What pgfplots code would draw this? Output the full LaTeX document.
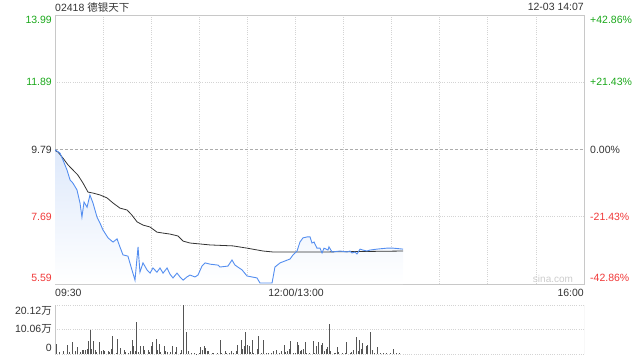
\documentclass[border=0pt]{standalone}
\usepackage{pgfplots}
\pgfplotsset{compat=1.18}
\usepackage{fontspec}
\setmainfont{Liberation Sans}
\newfontfamily\cjk{Noto Sans CJK SC}
\definecolor{cgreen}{RGB}{26,168,26}
\definecolor{cred}{RGB}{240,56,56}
\definecolor{cblue}{RGB}{84,142,240}
\definecolor{cdark}{RGB}{51,51,51}
\definecolor{cframe}{RGB}{200,200,200}
\definecolor{cgrid}{RGB}{212,212,212}
\definecolor{cfill}{RGB}{222,233,251}
\definecolor{cbar}{RGB}{85,85,85}
\begin{document}
\begin{tikzpicture}[every node/.style={inner sep=0pt, font=\fontsize{10.5}{12}\selectfont}]
\path[use as bounding box] (0,0) rectangle (640pt,-360pt);
\begin{axis}[
  at={(55pt,-15pt)}, anchor=north west, width=529pt, height=269pt, scale only axis,
  xmin=0, xmax=330, ymin=5.59, ymax=13.99,
  xtick={30,60,...,300}, ytick={7.69,11.89},
  xticklabels={}, yticklabels={},
  major tick length=0pt,
  grid=major, grid style={dash pattern=on 1pt off 1.2pt, cgrid, line width=0.8pt},
  extra y ticks={9.79}, extra y tick labels={},
  extra y tick style={grid style={dash pattern=on 3pt off 2pt, gray!65, line width=0.8pt}},
  axis line style={cframe, line width=0.8pt},
]
\addplot[draw=none, top color=cfill, bottom color=white] coordinates {
(0,9.78) (3.1,9.68) (5.0,9.46) (7.5,9.15) (9.4,8.84) (11.2,8.74) (13.7,8.53) (15.6,8.12)
(16.8,7.68) (18.1,8.15) (20.0,7.99) (21.8,8.37) (23.7,8.12) (26.2,7.68) (28.1,7.49)
(29.9,7.28) (33.1,7.03) (36.2,6.90) (38.7,7.00) (40.5,6.75) (42.4,6.50) (45.5,6.46)
(48.0,6.03) (49.9,5.71) (51.8,6.75) (53.0,5.96) (54.9,6.25) (57.4,6.03) (59.3,5.93)
(61.1,6.09) (63.6,5.96) (65.5,6.09) (67.4,5.93) (69.9,6.09) (71.7,5.90) (73.6,5.78)
(76.1,5.93) (78.0,5.81) (79.9,5.71) (82.3,5.81) (84.2,5.87) (87.3,5.81) (89.2,5.87)
(91.7,6.15) (93.6,6.25) (96.7,6.21) (101.7,6.18) (102.9,6.12) (107.9,6.15) (110.4,6.34)
(112.3,6.18) (116.7,6.03) (119.8,5.84) (126.0,5.78) (127.9,5.62) (135.4,5.62) (137.2,6.12)
(140.4,6.25) (146.6,6.37) (148.5,6.50) (151.0,6.62) (152.8,6.90) (154.7,7.03) (157.2,7.06)
(159.1,7.06) (160.3,6.87) (161.6,6.90) (163.4,6.71) (165.3,6.71) (166.6,6.56) (167.8,6.71)
(170.3,6.65) (170.9,6.75) (172.8,6.59) (177.8,6.62) (182.2,6.59) (184.0,6.62) (185.3,6.56)
(187.1,6.59) (188.4,6.53) (190.3,6.68) (192.1,6.65) (194.6,6.62) (196.5,6.65) (200.9,6.68)
(207.1,6.71) (210.9,6.71) (217.1,6.68) (217.1,5.59) (0,5.59)
} -- cycle;
\addplot[cdark, line width=0.8pt] coordinates {
(0,9.76) (1.9,9.71) (5.0,9.52) (8.1,9.31) (11.2,9.15) (14.3,8.99) (17.5,8.74) (20.6,8.46)
(23.7,8.43) (28.1,8.37) (32.4,8.28) (36.2,8.12) (40.5,7.96) (45.0,7.90) (48.0,7.74)
(51.2,7.53) (54.9,7.43) (59.3,7.37) (63.6,7.21) (67.4,7.18) (71.7,7.15) (76.7,7.09)
(79.9,6.93) (84.2,6.87) (90.5,6.84) (96.7,6.81) (111.0,6.78) (119.8,6.71) (129.8,6.62)
(136.0,6.59) (151.0,6.59) (167.2,6.59) (217.1,6.62)
};
\addplot[cblue, line width=0.9pt] coordinates {
(0,9.78) (3.1,9.68) (5.0,9.46) (7.5,9.15) (9.4,8.84) (11.2,8.74) (13.7,8.53) (15.6,8.12)
(16.8,7.68) (18.1,8.15) (20.0,7.99) (21.8,8.37) (23.7,8.12) (26.2,7.68) (28.1,7.49)
(29.9,7.28) (33.1,7.03) (36.2,6.90) (38.7,7.00) (40.5,6.75) (42.4,6.50) (45.5,6.46)
(48.0,6.03) (49.9,5.71) (51.8,6.75) (53.0,5.96) (54.9,6.25) (57.4,6.03) (59.3,5.93)
(61.1,6.09) (63.6,5.96) (65.5,6.09) (67.4,5.93) (69.9,6.09) (71.7,5.90) (73.6,5.78)
(76.1,5.93) (78.0,5.81) (79.9,5.71) (82.3,5.81) (84.2,5.87) (87.3,5.81) (89.2,5.87)
(91.7,6.15) (93.6,6.25) (96.7,6.21) (101.7,6.18) (102.9,6.12) (107.9,6.15) (110.4,6.34)
(112.3,6.18) (116.7,6.03) (119.8,5.84) (126.0,5.78) (127.9,5.62) (135.4,5.62) (137.2,6.12)
(140.4,6.25) (146.6,6.37) (148.5,6.50) (151.0,6.62) (152.8,6.90) (154.7,7.03) (157.2,7.06)
(159.1,7.06) (160.3,6.87) (161.6,6.90) (163.4,6.71) (165.3,6.71) (166.6,6.56) (167.8,6.71)
(170.3,6.65) (170.9,6.75) (172.8,6.59) (177.8,6.62) (182.2,6.59) (184.0,6.62) (185.3,6.56)
(187.1,6.59) (188.4,6.53) (190.3,6.68) (192.1,6.65) (194.6,6.62) (196.5,6.65) (200.9,6.68)
(207.1,6.71) (210.9,6.71) (217.1,6.68)
};
\end{axis}
\begin{axis}[
  at={(55pt,-305pt)}, anchor=north west, width=529pt, height=49pt, scale only axis,
  xmin=0, xmax=330, ymin=0, ymax=20.12,
  xtick=\empty, ytick={0,10.06,20.12}, yticklabels={},
  major tick length=0pt,
  ymajorgrids, grid style={dash pattern=on 1pt off 1.2pt, cgrid, line width=0.8pt},
  axis line style={draw=none},
]
\draw[cframe, line width=0.8pt] (rel axis cs:0,0) -- (rel axis cs:0,1);
\draw[cframe, line width=0.8pt] (rel axis cs:1,0) -- (rel axis cs:1,1);
\addplot[ycomb, cbar, line width=0.8pt] coordinates {
(1,4.2) (3,1.0) (5,1.4) (8,3.8) (9,0.8) (11,4.8) (13,1.1) (14,3.0) (16,0.8) (17,1.8)
(18,1.5) (19,1.8) (20,2.2) (21,5.5) (22,10.0) (23,2.0) (24,5.5) (25,1.8) (26,0.7) (28,5.1)
(29,1.1) (30,1.8) (31,1.4) (33,1.4) (34,0.7) (35,2.0) (36,7.5) (38,0.4) (39,6.3) (41,2.5)
(43,1.5) (44,0.7) (46,0.4) (47,1.1) (48,5.9) (49,3.1) (50,1.4) (51,13.3) (52,0.7) (53,3.4)
(55,3.4) (56,1.8) (58,1.5) (59,0.7) (60,3.1) (61,5.1) (63,6.2) (64,1.8) (65,4.2) (66,0.7)
(68,3.4) (69,1.1) (70,0.8) (72,0.8) (73,3.1) (75,1.0) (76,2.7) (78,0.4) (79,1.8) (80,20.12)
(82,8.9) (83,1.1) (85,0.4) (87,0.4) (88,0.2) (90,0.4) (91,2.7) (92,1.5) (93,3.4) (94,2.5)
(95,1.4) (96,1.1) (98,0.4) (99,0.3) (101,0.3) (103,5.6) (104,0.4) (106,1.1) (107,0.4) (109,0.4)
(110,1.1) (111,0.4) (113,1.1) (114,3.8) (116,5.9) (117,2.2) (118,3.4) (119,8.9) (120,3.8) (121,3.4)
(122,0.7) (123,5.9) (124,0.4) (126,2.2) (127,7.2) (129,0.4) (130,5.9) (132,0.3) (133,0.3) (135,0.4)
(136,1.1) (138,1.5) (140,0.4) (141,1.4) (143,3.8) (144,0.7) (145,1.1) (146,2.2) (147,5.5) (149,0.4)
(150,0.4) (151,4.8) (152,3.8) (153,1.1) (154,1.5) (155,2.2) (156,4.8) (157,0.4) (159,0.3) (161,5.2)
(162,0.4) (163,3.1) (164,5.1) (166,3.8) (167,4.5) (168,1.1) (169,2.2) (170,2.7) (171,12.4) (172,1.1)
(174,0.4) (175,0.4) (176,2.7) (177,0.7) (179,0.4) (181,0.4) (182,4.8) (184,0.4) (185,0.7) (186,1.5)
(188,6.8) (189,1.1) (190,5.9) (191,2.0) (192,4.5) (194,3.4) (195,3.8) (197,8.9) (198,1.5) (199,0.4)
(201,2.7) (203,0.3) (205,0.3) (207,0.4) (209,0.4) (211,2.2) (213,0.4) (215,0.4)
};
\end{axis}
% texts
\node[anchor=west, text=cdark] at (55pt,-7pt) {02418 {\cjk 德银天下}};
\node[anchor=east, text=cdark] at (584pt,-7pt) {12-03 14:07};
\node[anchor=east, text=cgreen] at (52pt,-20pt) {13.99};
\node[anchor=east, text=cgreen] at (52pt,-82pt) {11.89};
\node[anchor=east, text=cdark] at (52pt,-150pt) {9.79};
\node[anchor=east, text=cred] at (52pt,-217pt) {7.69};
\node[anchor=east, text=cred] at (52pt,-278pt) {5.59};
\node[anchor=west, text=cgreen] at (590pt,-20pt) {+42.86\%};
\node[anchor=west, text=cgreen] at (590pt,-82pt) {+21.43\%};
\node[anchor=west, text=cdark] at (590pt,-150pt) {0.00\%};
\node[anchor=west, text=cred] at (590pt,-217pt) {-21.43\%};
\node[anchor=west, text=cred] at (590pt,-278pt) {-42.86\%};
\node[anchor=west, text=cdark] at (55pt,-293pt) {09:30};
\node[text=cdark] at (296pt,-293pt) {12:00/13:00};
\node[anchor=east, text=cdark] at (584pt,-293pt) {16:00};
\node[text=black!20, font=\fontsize{10}{12}\selectfont] at (553pt,-279pt) {sina.com};
\node[anchor=east, text=cdark] at (52pt,-311pt) {20.12{\cjk 万}};
\node[anchor=east, text=cdark] at (52pt,-329pt) {10.06{\cjk 万}};
\node[anchor=east, text=cdark] at (52pt,-348pt) {0};
\end{tikzpicture}
\end{document}
